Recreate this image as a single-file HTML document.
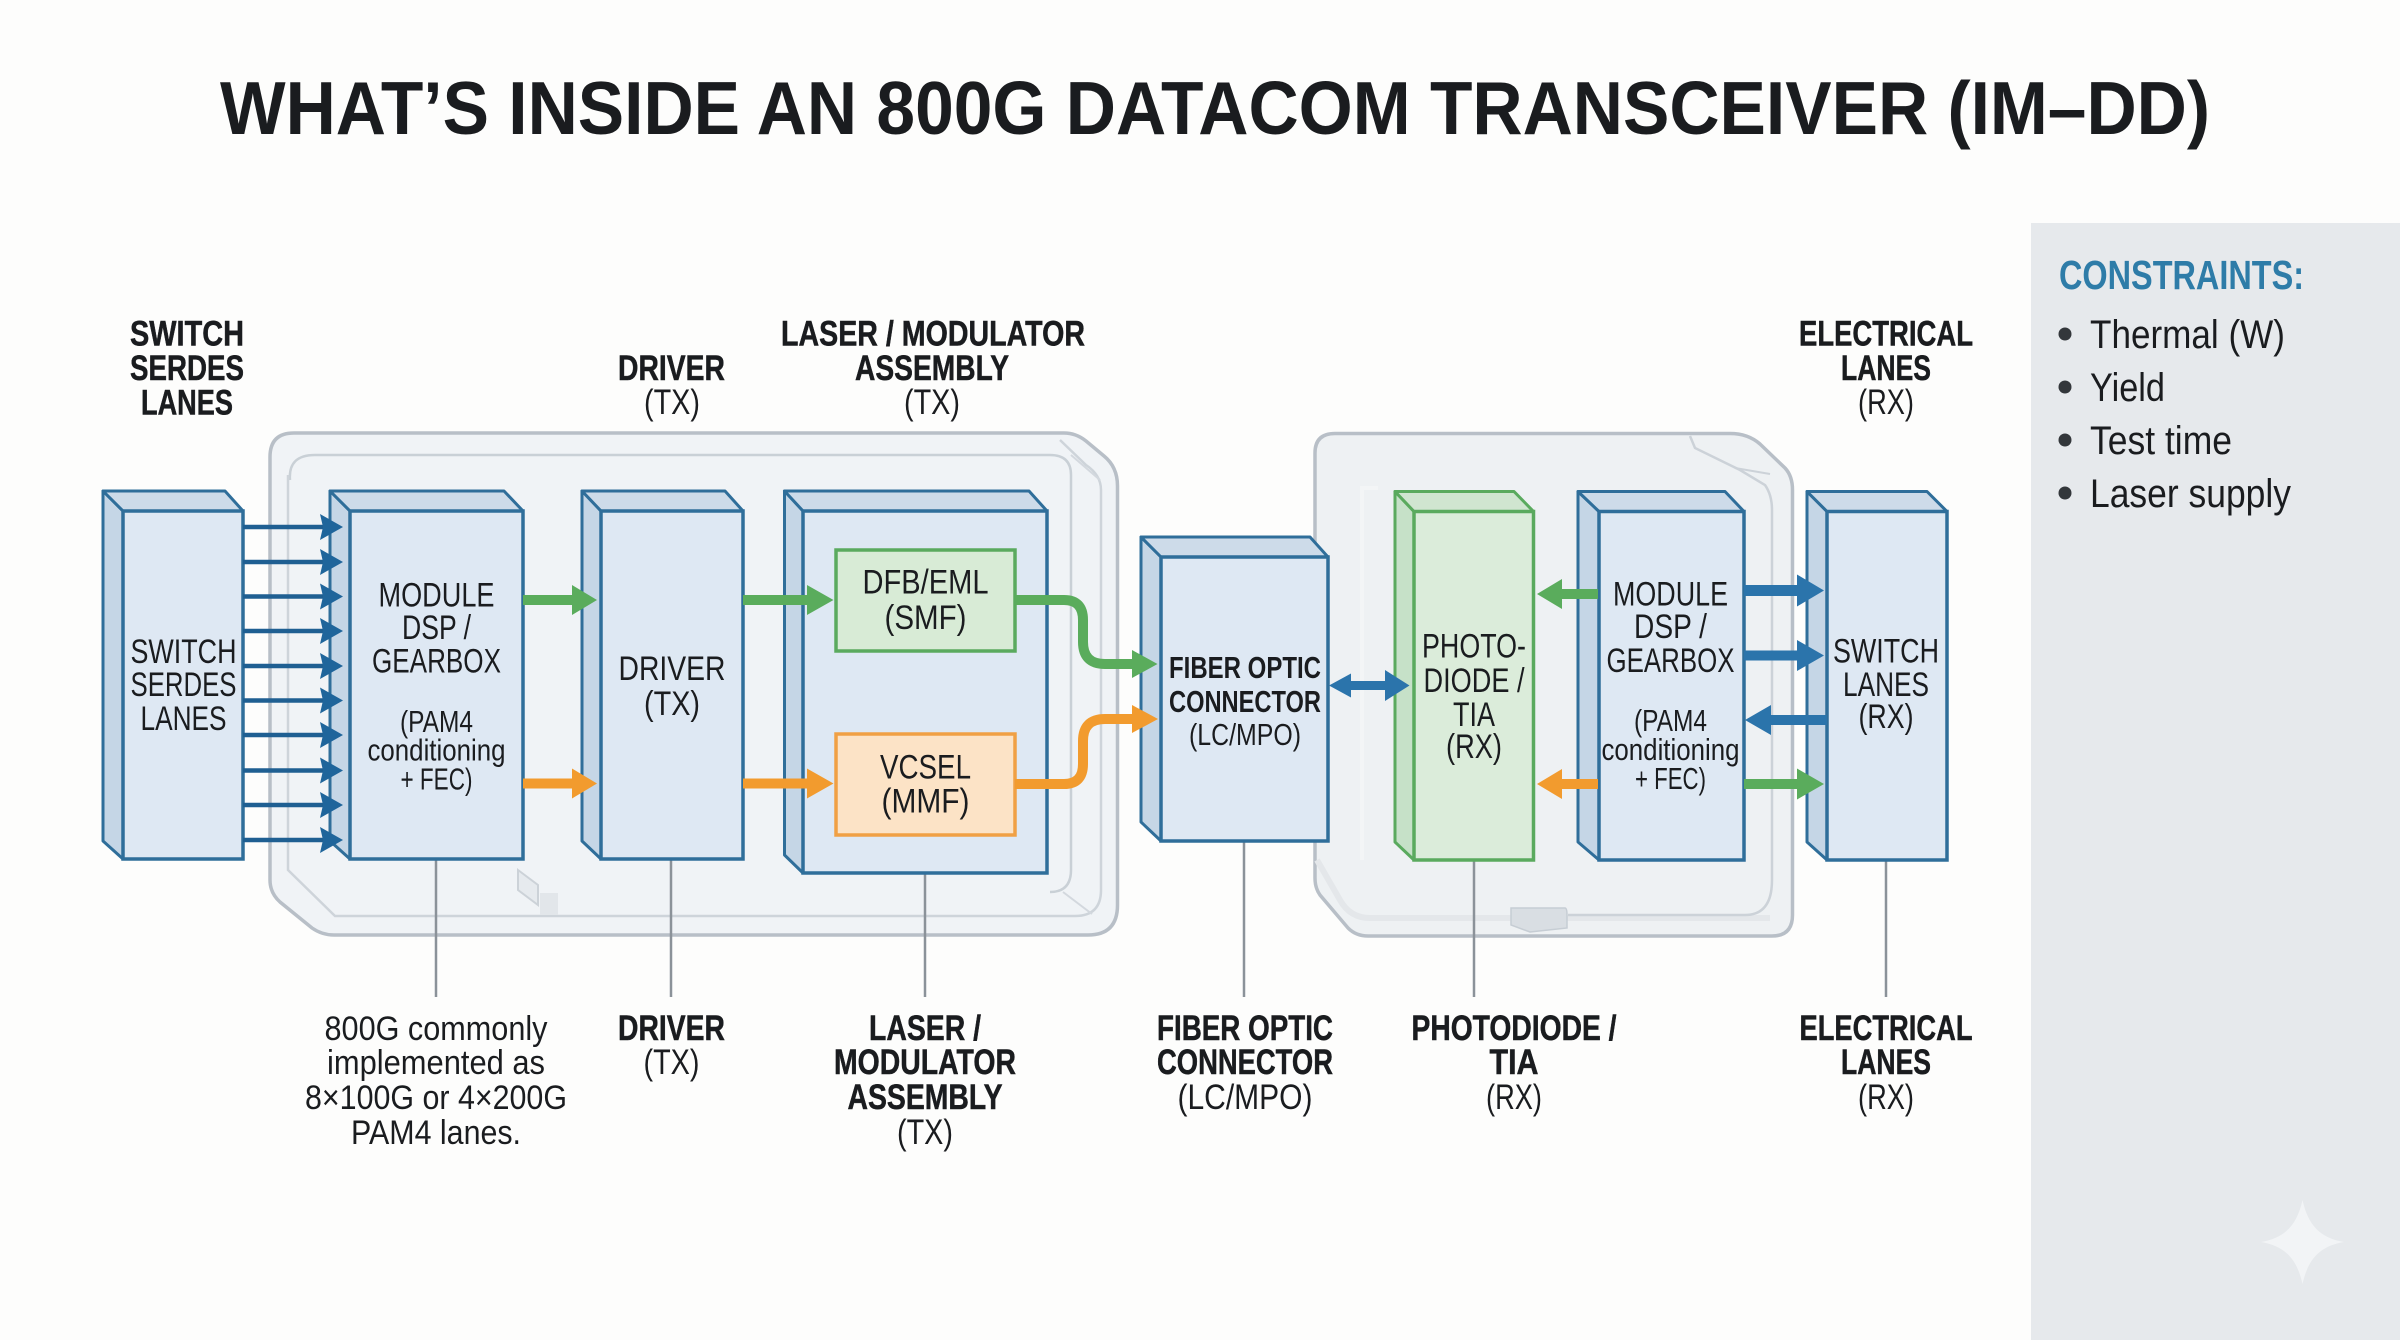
<!DOCTYPE html>
<html><head><meta charset="utf-8"><style>
html,body{margin:0;padding:0;background:#fdfdfc;width:2400px;height:1340px;overflow:hidden}
svg{display:block}
text{font-family:"Liberation Sans",sans-serif;fill:#1a1c1f;text-anchor:middle}
.b{font-weight:700;font-size:35px;stroke:#1a1c1f;stroke-width:.5px}
.r{font-size:35px}
.m{font-size:34px}
.s{font-size:31px}
.f{font-size:34px}
.side{fill:#c5d6e6;stroke:#2f6e9a;stroke-width:3;stroke-linejoin:round}
.top{fill:#cddbe9;stroke:#2f6e9a;stroke-width:3;stroke-linejoin:round}
.face{fill:#deE8f3;stroke:#2f6e9a;stroke-width:3.5}
.gside{fill:#c6e1c8;stroke:#5aaa5e;stroke-width:3;stroke-linejoin:round}
.gtop{fill:#d0e5d0;stroke:#5aaa5e;stroke-width:3;stroke-linejoin:round}
.gface{fill:#dbecda;stroke:#5aaa5e;stroke-width:3.5}
.lead{stroke:#8b9299;stroke-width:2.5;fill:none}
.lane{stroke:#1f5f92;stroke-width:4.5}
.laneh{fill:#1f659b}
</style></head><body>
<svg width="2400" height="1340" viewBox="0 0 2400 1340" xmlns="http://www.w3.org/2000/svg">
<rect width="2400" height="1340" fill="#fdfdfc"/>
<rect x="2031" y="223" width="369" height="1117" fill="#e6e9ec"/>
<path d="M2302.500 1200C2308 1225 2320 1238 2344 1242C2320 1246 2308 1259 2302.500 1284C2297 1259 2285 1246 2261 1242C2285 1238 2297 1225 2302.500 1200Z" fill="#f2f4f6"/>

<text x="1215" y="134" font-size="75" font-weight="700" textLength="1990" lengthAdjust="spacingAndGlyphs">WHAT’S INSIDE AN 800G DATACOM TRANSCEIVER (IM–DD)</text>

<!-- TX housing -->
<path d="M294 433H1064Q1076 433 1086 441L1104 456Q1117.500 467 1117.500 486V905Q1117.500 935 1088 935H334Q322 935 312 928L280 902Q270 893 270 880V457Q270 433 294 433Z" fill="#f0f3f6" stroke="#b8bfc7" stroke-width="3.500"/>
<path d="M290 480Q288 455 315 455H1050Q1071 455 1071 475V870Q1071 892 1050 892" fill="none" stroke="#c9d0d6" stroke-width="2.500"/>
<path d="M288 475V870L335 916H1075Q1101 916 1101 890V490Q1101 475 1086 465L1060 440" fill="none" stroke="#ced4da" stroke-width="2.500"/>
<path d="M1063 892L1092 914M1071 455L1100 480" stroke="#d3d8de" stroke-width="2" fill="none"/>
<path d="M518 870L538 885V905L518 890Z" fill="#e6eaee" stroke="#ccd2d8" stroke-width="2"/>
<rect x="540" y="893" width="18" height="22" fill="#e2e6ea"/>

<!-- RX housing -->
<path d="M1335 433.500H1730Q1748 433.500 1760 444L1785 468Q1792.500 476 1792.500 490V915Q1792.500 936 1772 936H1368Q1356 936 1348 928L1320 895Q1315 888 1315 878V453Q1315 433.500 1335 433.500Z" fill="#eef1f3" stroke="#b8bfc7" stroke-width="3.500"/>
<path d="M1317 860L1340 900Q1350 918 1370 918L1770 918" fill="none" stroke="#e4e7ea" stroke-width="6"/>
<path d="M1690 436L1695 448L1740 470L1765 485Q1772 495 1772 510V880Q1772 915 1745 915H1568" fill="none" stroke="#ccd2d8" stroke-width="2.500"/>
<path d="M1735 468L1770 474" stroke="#ccd2d8" stroke-width="2" fill="none"/>
<path d="M1511 908H1565Q1567 908 1567 915V928L1530 932L1511 925Z" fill="#d9dee3" stroke="#c6cdd4" stroke-width="1.500"/>
<path d="M1360 488H1378M1362 490V860" stroke="#f3f5f6" stroke-width="4" fill="none"/>

<!-- leader lines -->
<path class="lead" d="M436 859V997M671 859V997M925 873V997M1244 841V997M1474 860V997M1886 860V997"/>

<!-- Switch SerDes -->
<path class="side" d="M103 491L123 511V859L103 841Z"/><path class="top" d="M103 491H225L243 511H123Z"/><rect class="face" x="123" y="511" width="120" height="348"/>
<!-- Module DSP TX -->
<path class="side" d="M330 491L350 511V859L330 841Z"/><path class="top" d="M330 491H504L523 511H350Z"/><rect class="face" x="350" y="511" width="173" height="348"/>
<!-- Driver -->
<path class="side" d="M582 491L601 511V859L582 841Z"/><path class="top" d="M582 491H725L743 511H601Z"/><rect class="face" x="601" y="511" width="142" height="348"/>
<!-- Laser -->
<path class="side" d="M784.500 491L803 511V873L784.500 855Z"/><path class="top" d="M784.500 491H1029L1047 511H803Z"/><rect class="face" x="803" y="511" width="244" height="362"/>
<rect x="836" y="550" width="179" height="101" fill="#d8ebd6" stroke="#5aaa5e" stroke-width="3.500"/>
<rect x="836" y="734" width="179" height="101" fill="#fce3c6" stroke="#f0a044" stroke-width="3.500"/>
<!-- Fiber -->
<path class="side" d="M1141 537L1161 557V841L1141 822Z"/><path class="top" d="M1141 537H1310L1328 557H1161Z"/><rect class="face" x="1161" y="557" width="167" height="284"/>
<!-- Photodiode -->
<path class="gside" d="M1395 491.500L1414 511.500V860L1395 842Z"/><path class="gtop" d="M1395 491.500H1514L1533.500 511.500H1414Z"/><rect class="gface" x="1414" y="511.500" width="119.500" height="348.500"/>
<!-- Module DSP RX -->
<path class="side" d="M1578 491.500L1599 511.500V860L1578 842Z"/><path class="top" d="M1578 491.500H1725L1744 511.500H1599Z"/><rect class="face" x="1599" y="511.500" width="145" height="348.500"/>
<!-- Switch RX -->
<path class="side" d="M1807 491.500L1827 511.500V860L1807 842Z"/><path class="top" d="M1807 491.500H1927L1947 511.500H1827Z"/><rect class="face" x="1827" y="511.500" width="120" height="348.500"/>

<!-- SerDes lanes -->
<g class="lane">
<path d="M243 527H325M243 562H325M243 596.500H325M243 631H325M243 666H325M243 700.500H325M243 735H325M243 770.500H325M243 805H325M243 840H325"/>
</g>
<g class="laneh">
<path d="M320 514L343 527L320 540L323 527ZM320 549L343 562L320 575L323 562ZM320 583.500L343 596.500L320 609.500L323 596.500ZM320 618L343 631L320 644L323 631ZM320 653L343 666L320 679L323 666ZM320 687.500L343 700.500L320 713.500L323 700.500ZM320 722L343 735L320 748L323 735ZM320 757.500L343 770.500L320 783.500L323 770.500ZM320 792L343 805L320 818L323 805ZM320 827L343 840L320 853L323 840Z"/>
</g>

<!-- TX arrows -->
<g fill="#5aac5c">
<path d="M523 595H572V585L597 600L572 615V605H523Z"/>
<path d="M743 595H807V585L833.500 600L807 615V605H743Z"/>
<path d="M1132 650L1157.500 664L1132 678Z"/>
</g>
<path d="M1015 600H1064Q1083 600 1083 620V642Q1083 664 1105 664H1135" fill="none" stroke="#5aac5c" stroke-width="10"/>
<g fill="#f29b2e">
<path d="M523 778.500H572V768.500L597 783.500L572 798.500V788.500H523Z"/>
<path d="M743 778.500H807V768.500L833.500 783.500L807 798.500V788.500H743Z"/>
<path d="M1132 705L1158 719L1132 733Z"/>
</g>
<path d="M1015 784H1064Q1083 784 1083 764V741Q1083 719 1105 719H1135" fill="none" stroke="#f29b2e" stroke-width="10"/>

<!-- bi arrow -->
<path d="M1329 685.500L1351 673.500V681H1385V670L1409.500 685.500L1385 701V690H1351V697.500Z" fill="#2b74ab"/>

<!-- RX arrows -->
<path d="M1537 594L1562 579V589H1598V599H1562V609Z" fill="#5aac5c"/>
<path d="M1537 784L1562 769V779H1598V789H1562V799Z" fill="#f29b2e"/>
<g fill="#2b74ab">
<path d="M1744 585H1797V574.500L1824 590.500L1797 606.500V596H1744Z"/>
<path d="M1744 650.500H1797V640L1824 655.500L1797 671V660.500H1744Z"/>
<path d="M1745 720L1771 705V715H1827V725H1771V735Z"/>
</g>
<path d="M1744 779H1797V768.500L1824 784L1797 799.500V789H1744Z" fill="#5aac5c"/>

<!-- top labels -->
<text class="b" x="187" y="345.500" textLength="114" lengthAdjust="spacingAndGlyphs">SWITCH</text>
<text class="b" x="187" y="380" textLength="114" lengthAdjust="spacingAndGlyphs">SERDES</text>
<text class="b" x="187" y="414.500" textLength="92" lengthAdjust="spacingAndGlyphs">LANES</text>
<text class="b" x="671.500" y="380" textLength="107" lengthAdjust="spacingAndGlyphs">DRIVER</text>
<text class="r" x="672" y="414" textLength="56" lengthAdjust="spacingAndGlyphs">(TX)</text>
<text class="b" x="933" y="345.500" textLength="304" lengthAdjust="spacingAndGlyphs">LASER / MODULATOR</text>
<text class="b" x="932" y="380" textLength="154" lengthAdjust="spacingAndGlyphs">ASSEMBLY</text>
<text class="r" x="932" y="414" textLength="56" lengthAdjust="spacingAndGlyphs">(TX)</text>
<text class="b" x="1886" y="345.500" textLength="174" lengthAdjust="spacingAndGlyphs">ELECTRICAL</text>
<text class="b" x="1886" y="380" textLength="90" lengthAdjust="spacingAndGlyphs">LANES</text>
<text class="r" x="1886" y="414" textLength="56" lengthAdjust="spacingAndGlyphs">(RX)</text>

<!-- box text -->
<text class="m" x="183.500" y="663" textLength="106" lengthAdjust="spacingAndGlyphs">SWITCH</text>
<text class="m" x="183.500" y="696" textLength="106" lengthAdjust="spacingAndGlyphs">SERDES</text>
<text class="m" x="183.500" y="730" textLength="86" lengthAdjust="spacingAndGlyphs">LANES</text>

<text class="m" x="436.500" y="606.500" textLength="116" lengthAdjust="spacingAndGlyphs">MODULE</text>
<text class="m" x="436.500" y="639" textLength="69" lengthAdjust="spacingAndGlyphs">DSP /</text>
<text class="m" x="436.500" y="672.500" textLength="129" lengthAdjust="spacingAndGlyphs">GEARBOX</text>
<text class="s" x="436.500" y="732" textLength="73" lengthAdjust="spacingAndGlyphs">(PAM4</text>
<text class="s" x="436.500" y="760.500" textLength="138" lengthAdjust="spacingAndGlyphs">conditioning</text>
<text class="s" x="436.500" y="789.500" textLength="72" lengthAdjust="spacingAndGlyphs">+ FEC)</text>

<text class="m" x="672" y="680" textLength="107" lengthAdjust="spacingAndGlyphs">DRIVER</text>
<text class="m" x="672" y="715" textLength="56" lengthAdjust="spacingAndGlyphs">(TX)</text>

<text class="m" x="925.500" y="593.500" textLength="126" lengthAdjust="spacingAndGlyphs">DFB/EML</text>
<text class="m" x="925.500" y="629" textLength="82" lengthAdjust="spacingAndGlyphs">(SMF)</text>
<text class="m" x="925.500" y="778.500" textLength="91" lengthAdjust="spacingAndGlyphs">VCSEL</text>
<text class="m" x="925.500" y="812.500" textLength="88" lengthAdjust="spacingAndGlyphs">(MMF)</text>

<text class="s" font-weight="700" x="1245" y="678" textLength="152" lengthAdjust="spacingAndGlyphs">FIBER OPTIC</text>
<text class="s" font-weight="700" x="1245" y="712" textLength="152" lengthAdjust="spacingAndGlyphs">CONNECTOR</text>
<text class="s" x="1245" y="745" textLength="112" lengthAdjust="spacingAndGlyphs">(LC/MPO)</text>

<text class="m" x="1474" y="657.500" textLength="104" lengthAdjust="spacingAndGlyphs">PHOTO-</text>
<text class="m" x="1474" y="692" textLength="101" lengthAdjust="spacingAndGlyphs">DIODE /</text>
<text class="m" x="1474" y="726" textLength="42" lengthAdjust="spacingAndGlyphs">TIA</text>
<text class="m" x="1474" y="758" textLength="56" lengthAdjust="spacingAndGlyphs">(RX)</text>

<text class="m" x="1670.500" y="605.500" textLength="115" lengthAdjust="spacingAndGlyphs">MODULE</text>
<text class="m" x="1670.500" y="638" textLength="73" lengthAdjust="spacingAndGlyphs">DSP /</text>
<text class="m" x="1670.500" y="672" textLength="128" lengthAdjust="spacingAndGlyphs">GEARBOX</text>
<text class="s" x="1670.500" y="731" textLength="73" lengthAdjust="spacingAndGlyphs">(PAM4</text>
<text class="s" x="1670.500" y="760" textLength="138" lengthAdjust="spacingAndGlyphs">conditioning</text>
<text class="s" x="1670.500" y="789" textLength="71" lengthAdjust="spacingAndGlyphs">+ FEC)</text>

<text class="m" x="1886" y="662.500" textLength="106" lengthAdjust="spacingAndGlyphs">SWITCH</text>
<text class="m" x="1886" y="696" textLength="86" lengthAdjust="spacingAndGlyphs">LANES</text>
<text class="m" x="1886" y="728" textLength="55" lengthAdjust="spacingAndGlyphs">(RX)</text>

<!-- bottom labels -->
<text class="f" x="436" y="1040" textLength="223" lengthAdjust="spacingAndGlyphs">800G commonly</text>
<text class="f" x="436" y="1074" textLength="218" lengthAdjust="spacingAndGlyphs">implemented as</text>
<text class="f" x="436" y="1109" textLength="262" lengthAdjust="spacingAndGlyphs">8×100G or 4×200G</text>
<text class="f" x="436" y="1144" textLength="170" lengthAdjust="spacingAndGlyphs">PAM4 lanes.</text>

<text class="b" x="671.500" y="1040" textLength="107" lengthAdjust="spacingAndGlyphs">DRIVER</text>
<text class="r" x="671.500" y="1074" textLength="56" lengthAdjust="spacingAndGlyphs">(TX)</text>

<text class="b" x="925" y="1040" textLength="112" lengthAdjust="spacingAndGlyphs">LASER /</text>
<text class="b" x="925" y="1074" textLength="182" lengthAdjust="spacingAndGlyphs">MODULATOR</text>
<text class="b" x="925" y="1109" textLength="155" lengthAdjust="spacingAndGlyphs">ASSEMBLY</text>
<text class="r" x="925" y="1144" textLength="56" lengthAdjust="spacingAndGlyphs">(TX)</text>

<text class="b" x="1245" y="1040" textLength="176" lengthAdjust="spacingAndGlyphs">FIBER OPTIC</text>
<text class="b" x="1245" y="1074" textLength="176" lengthAdjust="spacingAndGlyphs">CONNECTOR</text>
<text class="r" x="1245" y="1109" textLength="135" lengthAdjust="spacingAndGlyphs">(LC/MPO)</text>

<text class="b" x="1514" y="1040" textLength="205" lengthAdjust="spacingAndGlyphs">PHOTODIODE /</text>
<text class="b" x="1514" y="1074" textLength="49" lengthAdjust="spacingAndGlyphs">TIA</text>
<text class="r" x="1514" y="1109" textLength="56" lengthAdjust="spacingAndGlyphs">(RX)</text>

<text class="b" x="1886" y="1040" textLength="173" lengthAdjust="spacingAndGlyphs">ELECTRICAL</text>
<text class="b" x="1886" y="1074" textLength="90" lengthAdjust="spacingAndGlyphs">LANES</text>
<text class="r" x="1886" y="1109" textLength="56" lengthAdjust="spacingAndGlyphs">(RX)</text>

<!-- constraints -->
<text x="2059" y="289" font-size="41" font-weight="700" style="fill:#2e7ca8;text-anchor:start" textLength="245" lengthAdjust="spacingAndGlyphs">CONSTRAINTS:</text>
<g fill="#33373b"><circle cx="2065" cy="334" r="6.500"/><circle cx="2065" cy="387" r="6.500"/><circle cx="2065" cy="440" r="6.500"/><circle cx="2065" cy="493" r="6.500"/></g>
<g font-size="40" style="text-anchor:start">
<text x="2090" y="348" style="text-anchor:start" textLength="195" lengthAdjust="spacingAndGlyphs">Thermal (W)</text>
<text x="2090" y="401" style="text-anchor:start" textLength="75" lengthAdjust="spacingAndGlyphs">Yield</text>
<text x="2090" y="454" style="text-anchor:start" textLength="142" lengthAdjust="spacingAndGlyphs">Test time</text>
<text x="2090" y="507" style="text-anchor:start" textLength="201" lengthAdjust="spacingAndGlyphs">Laser supply</text>
</g>
</svg>
</body></html>
